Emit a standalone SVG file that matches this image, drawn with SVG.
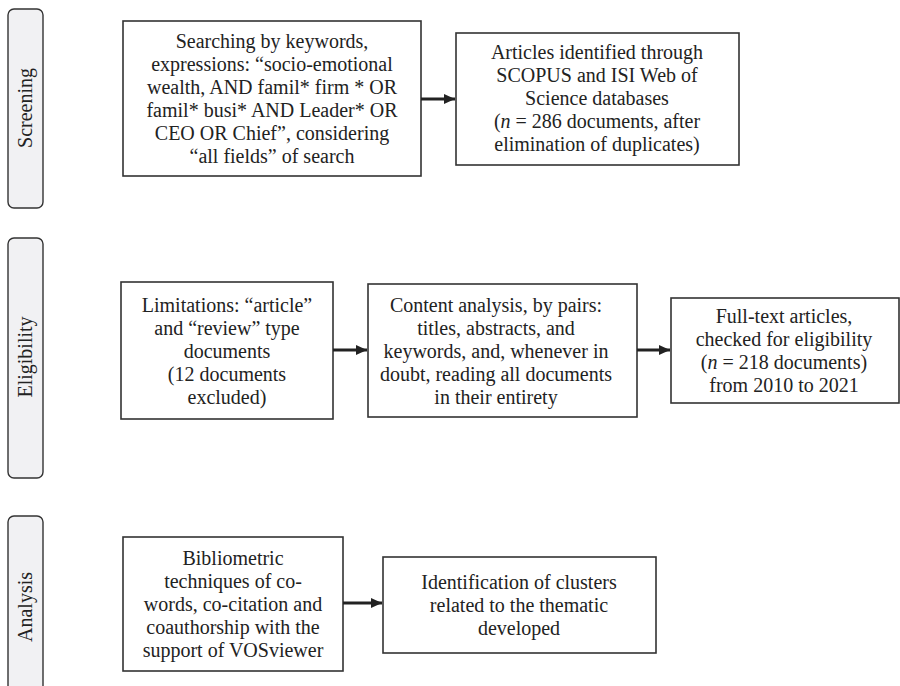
<svg xmlns="http://www.w3.org/2000/svg" width="900" height="686" viewBox="0 0 900 686">
<defs>
<style>
.box{fill:#ffffff;stroke:#333333;stroke-width:1.6}
.side{fill:#f1f1f3;stroke:#333333;stroke-width:1.4}
.t{font-family:"Liberation Serif","Times New Roman",serif;font-size:20px;fill:#222222;text-anchor:middle}
.edge{stroke:#222222;stroke-width:3;fill:none}
</style>
<marker id="ah" markerUnits="userSpaceOnUse" markerWidth="12" markerHeight="10" refX="11" refY="5" orient="auto">
<path d="M0,0 L11,5 L0,10 Z" fill="#222222"/>
</marker>
</defs>
<rect width="900" height="686" fill="#ffffff"/>
<g id="phase-screening">
<rect class="side" x="8" y="9" width="35" height="199" rx="6"/>
<text class="t" transform="translate(32,108) rotate(-90)">Screening</text>
</g>
<g id="phase-eligibility">
<rect class="side" x="8" y="238" width="35" height="240" rx="6"/>
<text class="t" transform="translate(32,357) rotate(-90)">Eligibility</text>
</g>
<g id="phase-analysis">
<rect class="side" x="8" y="516" width="35" height="184" rx="6"/>
<text class="t" transform="translate(32,607) rotate(-90)">Analysis</text>
</g>
<g id="search">
<rect class="box" x="123" y="21" width="298" height="155"/>
<text class="t" x="272" y="48">Searching by keywords,</text>
<text class="t" x="272" y="71">expressions: “socio-emotional</text>
<text class="t" x="272" y="94">wealth, AND famil* firm * OR</text>
<text class="t" x="272" y="117">famil* busi* AND Leader* OR</text>
<text class="t" x="272" y="140">CEO OR Chief”, considering</text>
<text class="t" x="272" y="163">“all fields” of search</text>
</g>
<g id="identified">
<rect class="box" x="456" y="33" width="283" height="132"/>
<text class="t" x="597" y="59">Articles identified through</text>
<text class="t" x="597" y="82">SCOPUS and ISI Web of</text>
<text class="t" x="597" y="105">Science databases</text>
<text class="t" x="597" y="128">(<tspan font-style="italic">n</tspan> = 286 documents, after</text>
<text class="t" x="597" y="151">elimination of duplicates)</text>
</g>
<g id="limitations">
<rect class="box" x="121" y="282" width="212" height="137"/>
<text class="t" x="227" y="312">Limitations: “article”</text>
<text class="t" x="227" y="335">and “review” type</text>
<text class="t" x="227" y="358">documents</text>
<text class="t" x="227" y="381">(12 documents</text>
<text class="t" x="227" y="404">excluded)</text>
</g>
<g id="content">
<rect class="box" x="368" y="284" width="269" height="133"/>
<text class="t" x="496" y="312">Content analysis, by pairs:</text>
<text class="t" x="496" y="335">titles, abstracts, and</text>
<text class="t" x="496" y="358">keywords, and, whenever in</text>
<text class="t" x="496" y="381">doubt, reading all documents</text>
<text class="t" x="496" y="404">in their entirety</text>
</g>
<g id="fulltext">
<rect class="box" x="671" y="298" width="228" height="105"/>
<text class="t" x="784" y="323">Full-text articles,</text>
<text class="t" x="784" y="346">checked for eligibility</text>
<text class="t" x="784" y="369">(<tspan font-style="italic">n</tspan> = 218 documents)</text>
<text class="t" x="784" y="392">from 2010 to 2021</text>
</g>
<g id="bibliometric">
<rect class="box" x="123" y="537" width="220" height="134"/>
<text class="t" x="233" y="565">Bibliometric</text>
<text class="t" x="233" y="588">techniques of co-</text>
<text class="t" x="233" y="611">words, co-citation and</text>
<text class="t" x="233" y="634">coauthorship with the</text>
<text class="t" x="233" y="657">support of VOSviewer</text>
</g>
<g id="clusters">
<rect class="box" x="383" y="557" width="273" height="96"/>
<text class="t" x="519" y="589">Identification of clusters</text>
<text class="t" x="519" y="612">related to the thematic</text>
<text class="t" x="519" y="635">developed</text>
</g>
<g id="connectors">
<line class="edge" x1="421" y1="99" x2="455" y2="99" marker-end="url(#ah)"/>
<line class="edge" x1="333" y1="350" x2="367" y2="350" marker-end="url(#ah)"/>
<line class="edge" x1="637" y1="350" x2="670" y2="350" marker-end="url(#ah)"/>
<line class="edge" x1="343" y1="603" x2="382" y2="603" marker-end="url(#ah)"/>
</g>
</svg>
